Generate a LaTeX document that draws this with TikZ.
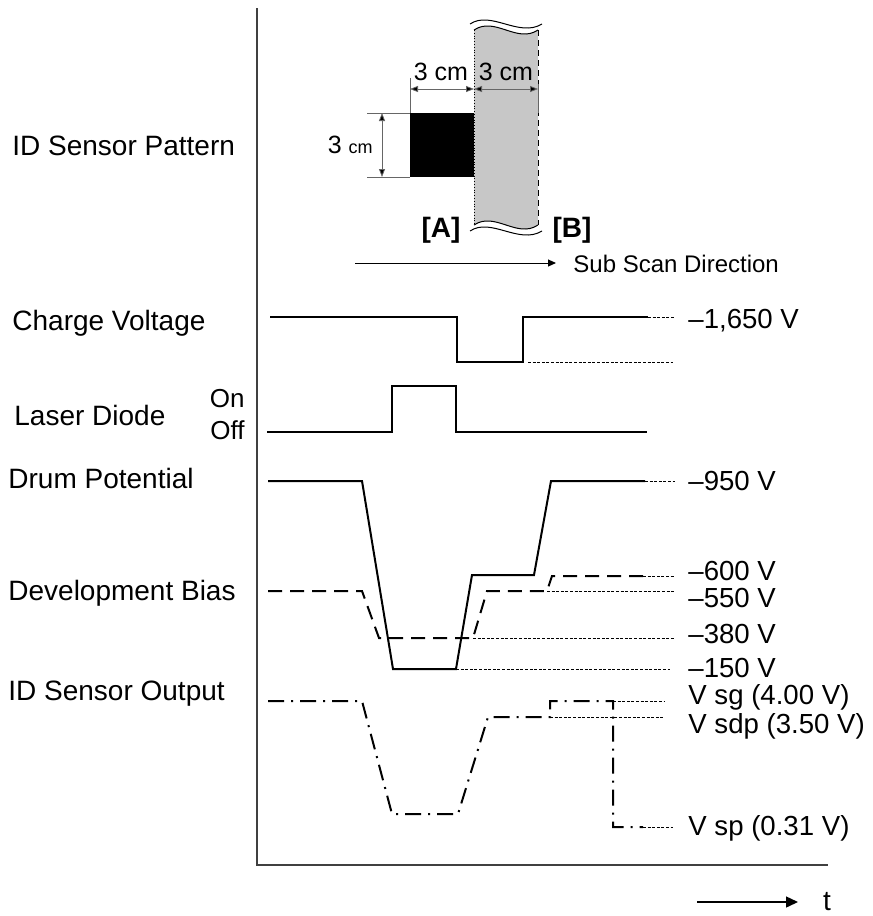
\documentclass[tikz,border=0pt]{standalone}
\usepackage{fontspec}
\setmainfont{Liberation Sans}
\usetikzlibrary{arrows.meta, positioning, calc}

\begin{document}
\begin{tikzpicture}[
    x=0.5pt, y=-0.5pt,
    signame/.style={anchor=base west, inner sep=0pt, font=\fontsize{14}{16}\selectfont},
    level/.style={anchor=base west, inner sep=0pt, font=\fontsize{13.8}{16}\selectfont},
    onoff/.style={anchor=base east, inner sep=0pt, font=\fontsize{13}{15}\selectfont},
    dimtext/.style={inner sep=0pt, font=\fontsize{12.5}{14}\selectfont},
    marker/.style={inner sep=0pt, font=\fontsize{14}{16}\selectfont\bfseries},
    wave/.style={line width=1pt, line join=miter},
    biasline/.style={wave, dash pattern=on 7pt off 4pt},
    sensorline/.style={wave, dash pattern=on 8pt off 3.5pt on 1pt off 3.5pt},
    guide/.style={line width=0.35pt, dash pattern=on 1.5pt off 0.8pt},
    axis/.style={line width=0.8pt, black!75},
    extline/.style={line width=0.4pt, black!60},
    dimline/.style={{Triangle[length=4pt,width=3pt,fill=black]}-{Triangle[length=4pt,width=3pt,fill=black]}, line width=0.4pt, black!60},
    arrow/.style={-{Triangle[length=6pt,width=5.5pt]}, line width=0.7pt}
]
\useasboundingbox (0,0) rectangle (873,916);

% Axes
\draw[axis] (257,8) |- (828,865);

% Signal names
\node[signame] (pattern) at (12,155) {ID Sensor Pattern};
\node[signame] (charge) at (12,330) {Charge Voltage};
\node[signame] (laser) at (14,425) {Laser Diode};
\node[signame] (drum) at (8,488) {Drum Potential};
\node[signame] (bias) at (8,600) {Development Bias};
\node[signame] (output) at (8,700) {ID Sensor Output};
\node[onoff] (on) at (245,407) {On};
\node[onoff] (off) at (245,439) {Off};

% ID sensor pattern
\fill[black!22] (474,30) .. controls (495,16) and (517,44) .. (538,30)
    -- (538,225) .. controls (517,239) and (495,211) .. (474,225) -- cycle;
\draw[line width=0.5pt] (474,30) .. controls (495,16) and (517,44) .. (538,30);
\draw[line width=0.5pt] (470,24) .. controls (491,10) and (519,38) .. (542,24);
\draw[line width=0.5pt] (474,225) .. controls (495,211) and (517,239) .. (538,225);
\draw[line width=0.5pt] (470,231) .. controls (491,217) and (519,245) .. (542,231);
\draw[line width=0.4pt, densely dotted] (474,30) -- (474,225);
\draw[line width=0.5pt, densely dashed] (538,30) -- (538,225);
\fill[black] (410,113) rectangle (474,177);

% Dimensions
\draw[extline] (410,78) -- (410,113);
\draw[extline] (538,84) -- (538,113);
\draw[extline] (367,113) -- (410,113);
\draw[extline] (367,177) -- (410,177);
\coordinate (dl) at (410,89);
\coordinate (dm) at (474,89);
\coordinate (dr) at (538,89);
\coordinate (dt) at (382,113);
\coordinate (db) at (382,177);
\draw[dimline] (dl) -- (dm);
\draw[dimline] (dm) -- (dr);
\draw[dimline] (dt) -- (db);
\node[dimtext] (widthA) at (441,72) {3 cm};
\node[dimtext] (widthB) at (506,72) {3 cm};
\node[dimtext, anchor=east] (height) at (373,145) {3 {\fontsize{9}{10}\selectfont cm}};
\node[marker] (markA) at (441,230) {[A]};
\node[marker] (markB) at (572,230) {[B]};

% Sub scan direction
\coordinate (substart) at (355,263);
\coordinate (subend) at (556,263);
\draw[-{Triangle[length=4pt,width=3.5pt]}, line width=0.5pt] (substart) -- (subend);
\node[anchor=base west, inner sep=0pt, font=\fontsize{12}{14}\selectfont] (subscan) at (573,272) {Sub Scan Direction};

% Charge voltage
\draw[wave] (270,317) -| (457,362) -| (523,317) -- (648,317);
\draw[guide] (648,317) -- (675,317);
\draw[guide] (528,362) -- (673,362);
\node[level] (v1650) at (688,328) {--1,650 V};

% Laser diode
\draw[wave] (267,432) -| (392,386) -| (456,432) -- (647,432);

% Drum potential
\draw[wave] (268,481) -- (362,481) -- (393,669) -- (456,669) -- (472,575)
    -- (534,575) -- (551,481) -- (645,481);
\draw[guide] (645,481) -- (675,481);
\draw[guide] (456,669) -- (670,669);

% Development bias
\draw[biasline] (268,591) -- (362,591) -- (379,638) -- (473,638) -- (487,591)
    -- (547,591) -- (552,576) -- (643,576);
\draw[guide] (643,576) -- (675,576);
\draw[guide] (547,591) -- (675,591);
\draw[guide] (473,638) -- (675,638);

% ID sensor output
\draw[sensorline] (268,701) -- (362,701) -- (392,814) -- (458,814) -- (488,717)
    -- (550,717) -- (550,701) -- (613,701) -- (613,827) -- (643,827);
\draw[guide] (613,701) -- (665,701);
\draw[guide] (550,717) -- (663,717);
\draw[guide] (643,827) -- (673,827);

% Levels
\node[level] (v950) at (688,490) {--950 V};
\node[level] (v600) at (688,580) {--600 V};
\node[level] (v550) at (688,607) {--550 V};
\node[level] (v380) at (688,643) {--380 V};
\node[level] (v150) at (688,677) {--150 V};
\node[level] (vsg) at (688,704) {V sg (4.00 V)};
\node[level] (vsdp) at (688,733) {V sdp (3.50 V)};
\node[level] (vsp) at (688,835) {V sp (0.31 V)};

% Time
\coordinate (tstart) at (697,902);
\coordinate (tend) at (798,902);
\draw[arrow] (tstart) -- (tend);
\node[inner sep=0pt, font=\fontsize{14}{16}\selectfont] (tlabel) at (827,902) {t};

\end{tikzpicture}
\end{document}
